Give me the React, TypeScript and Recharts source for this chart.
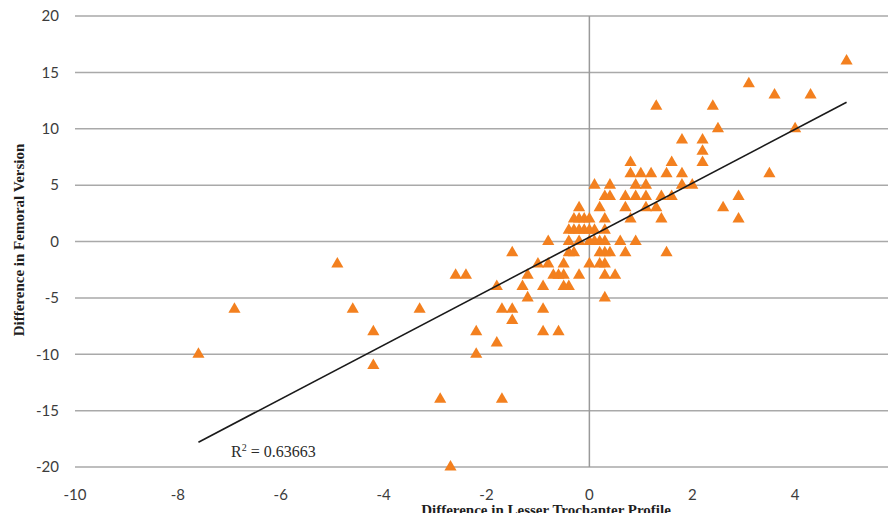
import {
  ScatterChart,
  Scatter,
  XAxis,
  YAxis,
  ZAxis,
  CartesianGrid,
  ReferenceLine,
  Label,
} from "recharts";

// Difference in lesser trochanter profile (x) vs difference in femoral version (y)
const lesserTrochanter = [
  5.0,
  3.1,
  3.6, 4.3,
  1.3, 2.4,
  2.5, 4.0,
  1.8, 2.2,
  2.2,
  0.8, 1.6, 2.2,
  0.8, 1.0, 1.2, 1.5, 1.8, 3.5,
  0.1, 0.4, 0.9, 1.1, 1.8, 2.0,
  0.3, 0.4, 0.7, 0.9, 1.1, 1.4, 1.6, 2.9,
  -0.2, 0.2, 0.7, 1.1, 1.3, 2.6,
  -0.3, -0.2, -0.1, 0.0, 0.3, 0.8, 1.4, 2.9,
  -0.4, -0.3, -0.2, -0.1, 0.0, 0.1, 0.3,
  -0.8, -0.4, -0.2, 0.0, 0.1, 0.2, 0.3, 0.6, 0.9,
  -1.5, -0.4, -0.3, 0.2, 0.3, 0.4, 0.7, 1.5,
  -4.9, -1.0, -0.8, -0.5, 0.0, 0.2, 0.3,
  -2.6, -2.4, -1.2, -0.7, -0.6, -0.5, -0.2, 0.3, 0.5,
  -1.8, -1.3, -0.9, -0.5, -0.4,
  -1.2, 0.3,
  -6.9, -4.6, -3.3, -1.7, -1.5, -0.9,
  -1.5,
  -4.2, -2.2, -0.9, -0.6,
  -1.8,
  -7.6, -2.2,
  -4.2,
  -2.9, -1.7,
  -2.7,
];

const femoralVersion = [
  16,
  14,
  13, 13,
  12, 12,
  10, 10,
  9, 9,
  8,
  7, 7, 7,
  6, 6, 6, 6, 6, 6,
  5, 5, 5, 5, 5, 5,
  4, 4, 4, 4, 4, 4, 4, 4,
  3, 3, 3, 3, 3, 3,
  2, 2, 2, 2, 2, 2, 2, 2,
  1, 1, 1, 1, 1, 1, 1,
  0, 0, 0, 0, 0, 0, 0, 0, 0,
  -1, -1, -1, -1, -1, -1, -1, -1,
  -2, -2, -2, -2, -2, -2, -2,
  -3, -3, -3, -3, -3, -3, -3, -3, -3,
  -4, -4, -4, -4, -4,
  -5, -5,
  -6, -6, -6, -6, -6, -6,
  -7,
  -8, -8, -8, -8,
  -9,
  -10, -10,
  -11,
  -14, -14,
  -20,
];

// linear trendline end points as drawn in the figure
const trendX = [-7.6, 5.0];
const trendY = [-17.8, 12.35];

const xTicks = [-10, -8, -6, -4, -2, 0, 2, 4, 6];
const yTicks = [-20, -15, -10, -5, 0, 5, 10, 15, 20];

const rSquared = "0.63663";

const points = lesserTrochanter.map((x, i) => ({ x, y: femoralVersion[i] }));
const trend = trendX.map((x, i) => ({ x, y: trendY[i] }));

const tickStyle = { fill: "#3c3c3c", fontSize: 15, fontFamily: "Lato" };
const titleFont = "'Liberation Serif', serif";

export default function App() {
  return (
    <div
      style={{
        position: "relative",
        width: 896,
        height: 521,
        margin: -8,
        overflow: "hidden",
        background: "#fff",
      }}
    >
      <ScatterChart
        width={912}
        height={521}
        margin={{ top: 16, right: 14, bottom: 0, left: 15 }}
      >
        <CartesianGrid
          vertical={false}
          stroke="#a9a9a9"
          strokeWidth={1.5}
        />
        <XAxis
          type="number"
          dataKey="x"
          domain={[-10, 6]}
          ticks={xTicks}
          allowDataOverflow
          axisLine={false}
          tickLine={false}
          tickSize={0}
          tickMargin={22}
          height={54}
          tick={tickStyle}
        >
          <Label
            content={() => (
              <text
                x={546}
                y={515}
                textAnchor="middle"
                fontFamily={titleFont}
                fontWeight="bold"
                fontSize={15}
                fill="#1e1e1e"
              >
                Difference in Lesser Trochanter Profile
              </text>
            )}
          />
        </XAxis>
        <YAxis
          type="number"
          dataKey="y"
          domain={[-20, 20]}
          ticks={yTicks}
          axisLine={false}
          tickLine={false}
          tickSize={0}
          tickMargin={16}
          width={60}
          tick={tickStyle}
        >
          <Label
            content={() => (
              <text
                x={24}
                y={240}
                transform="rotate(-90, 24, 240)"
                textAnchor="middle"
                fontFamily={titleFont}
                fontWeight="bold"
                fontSize={15}
                fill="#1e1e1e"
              >
                Difference in Femoral Version
              </text>
            )}
          />
        </YAxis>
        <ZAxis range={[48, 48]} />
        <ReferenceLine x={0} stroke="#9a9a9a" strokeWidth={1.5} />
        <Scatter
          data={points}
          shape="triangle"
          fill="#F3801F"
          isAnimationActive={false}
        />
        <Scatter
          data={trend}
          line={{ stroke: "#1a1a1a", strokeWidth: 1.6 }}
          shape={() => <g />}
          isAnimationActive={false}
        />
      </ScatterChart>
      <div
        style={{
          position: "absolute",
          left: 231,
          top: 442,
          fontFamily: titleFont,
          fontSize: 16,
          color: "#2a2a2a",
          whiteSpace: "nowrap",
        }}
      >
        R<sup style={{ fontSize: 10 }}>2</sup> = {rSquared}
      </div>
    </div>
  );
}
